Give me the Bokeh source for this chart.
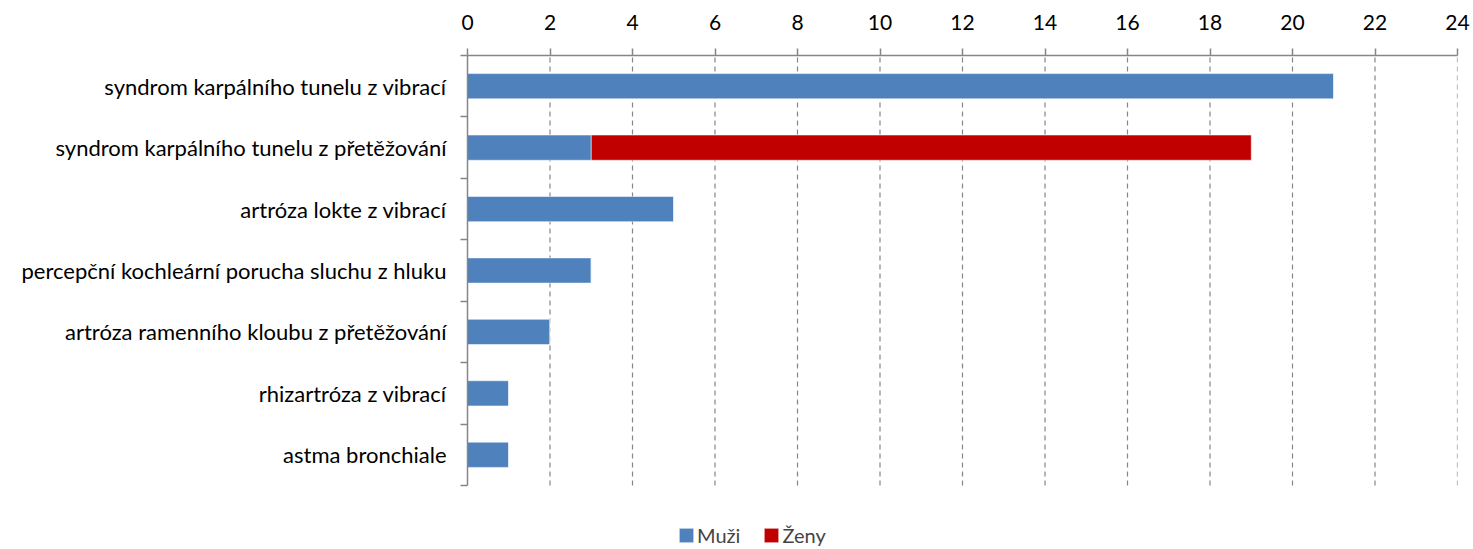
from bokeh.plotting import figure
from bokeh.models import ColumnDataSource, Range1d, FixedTicker, Legend
from bokeh.embed import file_html
from bokeh.resources import INLINE

categories = [
    "syndrom karpálního tunelu z vibrací",
    "syndrom karpálního tunelu z přetěžování",
    "artróza lokte z vibrací",
    "percepční kochleární porucha sluchu z hluku",
    "artróza ramenního kloubu z přetěžování",
    "rhizartróza z vibrací",
    "astma bronchiale",
]
muzi = [21, 3, 5, 3, 2, 1, 1]
zeny = [0, 16, 0, 0, 0, 0, 0]
x_ticks = list(range(0, 25, 2))

FONT = "Lato"
n = len(categories)
ypos = [n - 0.5 - i for i in range(n)]

# frame: top at 55px, category area 430px tall, frame extends to bottom (549px)
unit_px = 430 / n
ymin = -(549 - 485) / unit_px

src = ColumnDataSource(dict(y=ypos, Muži=muzi, Ženy=zeny))

p = figure(width=1473, height=549, output_backend="svg", toolbar_location=None,
           x_range=Range1d(0, 24), y_range=Range1d(ymin, n),
           x_axis_location="above", min_border_left=467, min_border_top=55,
           min_border_right=16, min_border_bottom=0)
p.outline_line_color = None
p.background_fill_color = "white"
p.xgrid.grid_line_color = None
p.ygrid.grid_line_color = None

gx = x_ticks[1:]
p.segment(x0=gx, y0=[0] * len(gx), x1=gx, y1=[n] * len(gx),
          line_color="#868686", line_dash="5 4", line_width=1.2)

rs = p.hbar_stack(["Muži", "Ženy"], y="y", height=0.41, source=src,
                  color=["#4F81BD", "#C00000"], line_color="white", line_alpha=0.5,
                  line_width=1)

ax = p.xaxis[0]
ax.ticker = FixedTicker(ticks=x_ticks, minor_ticks=[])
ax.axis_line_color = "#868686"
ax.axis_line_width = 1.5
ax.major_tick_line_color = "#868686"
ax.major_tick_line_width = 1.5
ax.major_tick_out = 7
ax.major_tick_in = 0
ax.minor_tick_line_color = None
ax.major_label_text_font = FONT
ax.major_label_text_font_size = "21px"
ax.major_label_text_color = "black"
ax.major_label_standoff = 19

ay = p.yaxis[0]
ay.bounds = (0, n)
ay.ticker = FixedTicker(ticks=ypos, minor_ticks=list(range(0, n + 1)))
ay.major_label_overrides = {y: c for y, c in zip(ypos, categories)}
ay.axis_line_color = "#868686"
ay.axis_line_width = 1.5
ay.major_tick_line_color = None
ay.major_tick_out = 0
ay.major_tick_in = 0
ay.minor_tick_line_color = "#868686"
ay.minor_tick_line_width = 1.5
ay.minor_tick_out = 7
ay.minor_tick_in = 0
ay.major_label_text_font = FONT
ay.major_label_text_font_size = "22px"
ay.major_label_text_color = "black"
ay.major_label_standoff = 14

legend = Legend(items=[("Muži", [rs[0]]), ("Ženy", [rs[1]])],
                orientation="horizontal", location=(210, 2),
                border_line_color=None, background_fill_alpha=0,
                padding=0, margin=0, spacing=22, label_standoff=2,
                glyph_width=18, glyph_height=18, label_height=20,
                label_text_font=FONT, label_text_font_size="20px")
p.add_layout(legend)

open("out.html", "w").write(file_html(p, INLINE))
